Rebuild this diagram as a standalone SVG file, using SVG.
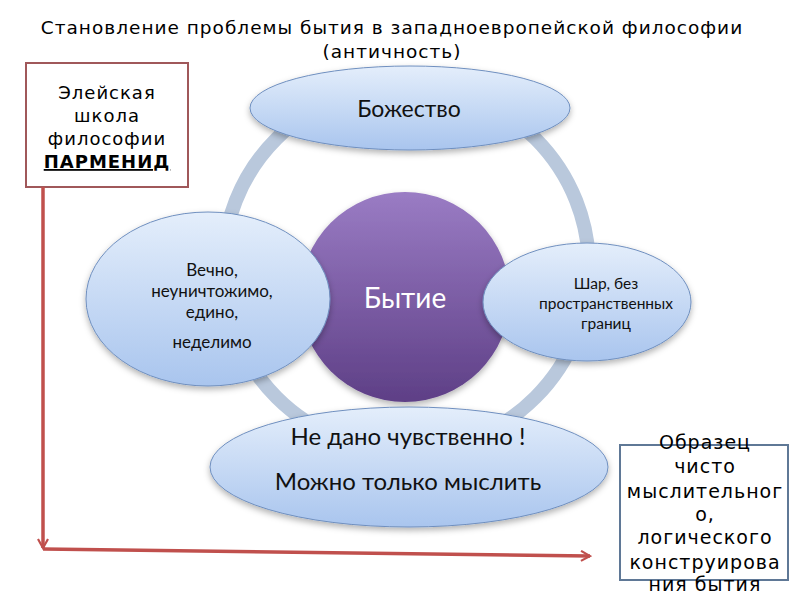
<svg xmlns="http://www.w3.org/2000/svg" width="800" height="600" viewBox="0 0 800 600">
<defs>
<linearGradient id="blue" x1="0" y1="0" x2="0" y2="1">
<stop offset="0" stop-color="#e4eefb"/>
<stop offset="1" stop-color="#a9c5ee"/>
</linearGradient>
<linearGradient id="purple" x1="0" y1="0" x2="0" y2="1">
<stop offset="0" stop-color="#9a7cc4"/>
<stop offset="1" stop-color="#5e3f86"/>
</linearGradient>
<filter id="sh" x="-10%" y="-10%" width="120%" height="130%">
<feDropShadow dx="0" dy="3" stdDeviation="3" flood-color="#000" flood-opacity="0.3"/>
</filter>
<marker id="chev" viewBox="0 0 12 12" refX="10" refY="6" markerWidth="12" markerHeight="12" markerUnits="userSpaceOnUse" orient="auto">
<path d="M1,1 L10,6 L1,11" fill="none" stroke="#c0504d" stroke-width="2.2"/>
</marker>
</defs>
<style>
.t{font-family:"DejaVu Sans",sans-serif;fill:#000;text-anchor:middle;letter-spacing:1px}
.e{font-family:Lato,"Open Sans",sans-serif;fill:#111;text-anchor:middle}
.ell{fill:url(#blue);stroke:#6f8fbf;stroke-width:1;filter:url(#sh)}
.arr{fill:none;stroke:#c0504d;stroke-width:3.5}
</style>
<rect width="800" height="600" fill="#fff"/>
<g id="title">
<text class="t" x="392" y="34" font-size="18.5">Становление проблемы бытия в западноевропейской философии</text>
<text class="t" x="392" y="58" font-size="18.5">(античность)</text>
</g>
<g id="ring">
<circle cx="406" cy="268" r="183" fill="none" stroke="#b9c8dc" stroke-width="14"/>
</g>
<g id="being">
<circle cx="405" cy="297" r="105" fill="url(#purple)" filter="url(#sh)"/>
<text x="405" y="308" font-family="Lato,Open Sans,sans-serif" font-size="28" fill="#fff" text-anchor="middle">Бытие</text>
</g>
<g id="deity">
<ellipse class="ell" cx="410" cy="108" rx="160" ry="42"/>
<text class="e" x="409" y="117" font-size="23">Божество</text>
</g>
<g id="props">
<ellipse class="ell" cx="208" cy="299" rx="122" ry="87"/>
<text class="e" font-size="17"><tspan x="212" y="276">Вечно,</tspan><tspan x="212" y="297">неуничтожимо,</tspan><tspan x="212" y="318">едино,</tspan><tspan x="212" y="348">неделимо</tspan></text>
</g>
<g id="sphere">
<ellipse class="ell" cx="587" cy="302" rx="104" ry="59"/>
<text class="e" font-size="15.5"><tspan x="606" y="289">Шар, без</tspan><tspan x="606" y="309">пространственных</tspan><tspan x="606" y="329">границ</tspan></text>
</g>
<g id="thought">
<ellipse class="ell" cx="409" cy="467" rx="199" ry="60"/>
<text class="e" font-size="24"><tspan x="408" y="445">Не дано чувственно !</tspan><tspan x="408" y="490">Можно только мыслить</tspan></text>
</g>
<g id="eleatic">
<rect x="26" y="63" width="162" height="124" fill="#fff" stroke="#a0585a" stroke-width="2"/>
<text class="t" font-size="18"><tspan x="107" y="99">Элейская</tspan><tspan x="107" y="122">школа</tspan><tspan x="107" y="145">философии</tspan><tspan x="107" y="168" font-weight="bold" text-decoration="underline">ПАРМЕНИД</tspan></text>
</g>
<g id="sample">
<rect x="620" y="445" width="168" height="135" fill="#fff" stroke="#5f7896" stroke-width="2"/>
<text class="t" font-size="19"><tspan x="705" y="449">Образец</tspan><tspan x="705" y="473">чисто</tspan><tspan x="705" y="498">мыслительног</tspan><tspan x="705" y="521">о,</tspan><tspan x="705" y="544">логического</tspan><tspan x="705" y="569">конструирова</tspan><tspan x="705" y="591">ния бытия</tspan></text>
</g>
<g id="connectors">
<path class="arr" d="M43,187 L43,548" marker-end="url(#chev)"/>
<path class="arr" d="M43,549 L590,556" marker-end="url(#chev)"/>
</g>
</svg>
